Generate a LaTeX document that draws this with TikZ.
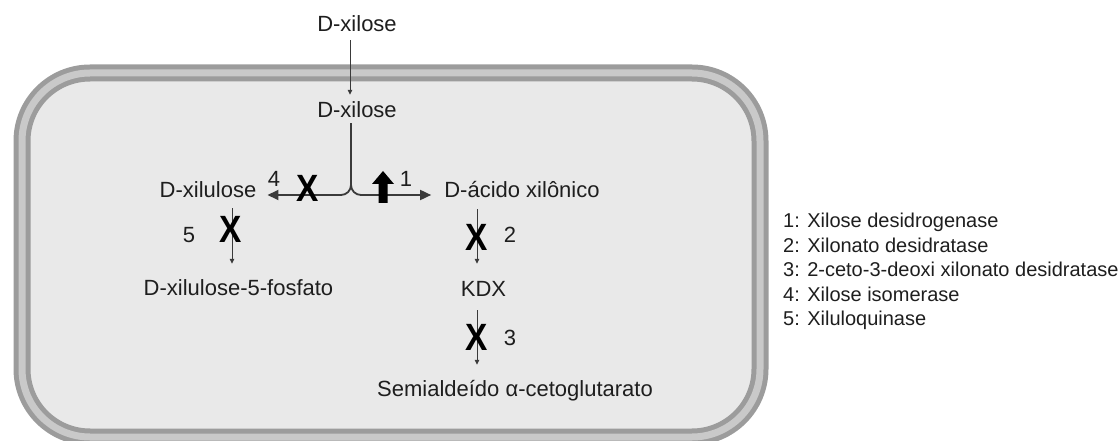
\documentclass[tikz,border=0pt]{standalone}
\usepackage{fontspec}
\setmainfont{Liberation Sans}
\usetikzlibrary{arrows.meta}
\definecolor{cellfill}{HTML}{E9E9E9}
\definecolor{memdark}{HTML}{9C9C9C}
\definecolor{memlight}{HTML}{C9C9C9}
\definecolor{ink}{HTML}{1E1E1E}
\definecolor{lineink}{HTML}{3A3A3A}
\tikzset{
  lbl/.style={anchor=base, inner sep=0pt, text height=16pt, text depth=5pt, text=ink, font=\fontsize{22}{26}\selectfont},
  num/.style={anchor=base, inner sep=0pt, text=ink, font=\fontsize{22}{26}\selectfont},
  blk/.style={anchor=base, inner sep=0pt, text=black, font=\fontsize{38}{40}\selectfont\bfseries},
  leg/.style={anchor=base west, inner sep=0pt, text=ink, font=\fontsize{20}{24}\selectfont},
  varrow/.style={draw=lineink, line width=1pt, -{Triangle[length=5pt,width=4.5pt]}},
  harrow/.style={draw=lineink, line width=1.8pt, -{Triangle[length=11pt,width=10pt]}},
}
\begin{document}
\begin{tikzpicture}[x=1pt,y=-1pt]
\useasboundingbox (0,0) rectangle (1120,441);
% cell
\fill[cellfill, rounded corners=68pt] (22,73) rectangle (760,437);
\draw[memdark, line width=17pt, rounded corners=68pt] (22,73) rectangle (760,437);
\draw[memlight, line width=7pt, rounded corners=68pt] (22,73) rectangle (760,437);
% labels
\node[lbl] (top) at (357,32) {D-xilose};
\node[lbl] (xil) at (357,118) {D-xilose};
\node[lbl] (xilu) at (208,198) {D-xilulose};
\node[lbl] (acid) at (522,197) {D-ácido xilônico};
\node[lbl] (fos) at (238.5,295) {D-xilulose-5-fosfato};
\node[lbl] (kdx) at (483.5,296) {KDX};
\node[lbl] (semi) at (515,396) {Semialdeído α-cetoglutarato};
% helper coordinates
\coordinate (c0) at (350,0);
\coordinate (br) at (351,195);
\coordinate (c5) at (232,0);
\coordinate (c2) at (477,0);
% connectors
\draw[varrow, shorten <=3pt, shorten >=7pt] (top.south -| c0) -- (xil.north -| c0);
\draw[harrow, rounded corners=10pt, shorten >=11pt] (xil.south -| br) |- (xilu.east |- br);
\draw[harrow, rounded corners=10pt, shorten >=13pt] (xil.south -| br) |- (acid.west |- br);
\draw[varrow, shorten <=5pt, shorten >=15pt] (xilu.south -| c5) -- (fos.north -| c5);
\draw[varrow, shorten <=7pt, shorten >=16pt] (acid.south -| c2) -- (kdx.north -| c2);
\draw[varrow, shorten <=9pt, shorten >=15pt] (kdx.south -| c2) -- (semi.north -| c2);
% up-regulation block arrow
\fill[black] (378.5,203) -- (378.5,184) -- (372,184) -- (383,171) -- (394,184) -- (387.5,184) -- (387.5,203) -- cycle;
% blocks
\node[blk] (x4) at (307.5,202) {\scalebox{0.88}[1]{X}};
\node[blk] (x5) at (231,243) {\scalebox{0.88}[1]{X}};
\node[blk] (x2) at (476.5,250) {\scalebox{0.88}[1]{X}};
\node[blk] (x3) at (476.5,350) {\scalebox{0.88}[1]{X}};
% enzyme numbers
\node[num] (n1) at (406,187) {1};
\node[num] (n4) at (274,187) {4};
\node[num] (n5) at (189,243) {5};
\node[num] (n2) at (510,243) {2};
\node[num] (n3) at (510,345) {3};
% legend
\node[leg] (l1) at (783,227) {1: Xilose desidrogenase};
\node[leg] (l2) at (783,252) {2: Xilonato desidratase};
\node[leg] (l3) at (783,276) {3: 2-ceto-3-deoxi xilonato desidratase};
\node[leg] (l4) at (783,301) {4: Xilose isomerase};
\node[leg] (l5) at (783,325) {5: Xiluloquinase};
\end{tikzpicture}
\end{document}
